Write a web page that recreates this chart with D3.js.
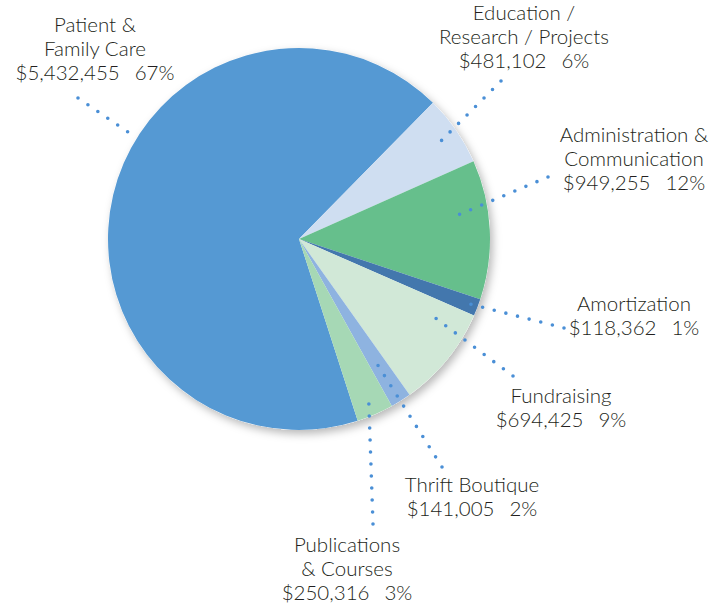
<!DOCTYPE html>
<html>
<head>
<meta charset="utf-8">
<script src="https://cdn.jsdelivr.net/npm/d3@7"></script>
<style>
  body { margin: 0; background: #fff; }
  text { font-family: Lato, "Open Sans", sans-serif; font-weight: 300; }
</style>
</head>
<body>
<div id="chart-container"></div>
<script>
// slices, in drawing order (clockwise)
const categories = ["Patient & Family Care", "Education / Research / Projects", "Administration & Communication",
    "Amortization", "Fundraising", "Thrift Boutique", "Publications & Courses"];
const amounts = [5432455, 481102, 949255, 118362, 694425, 141005, 250316];
const percents = ["67%", "6%", "12%", "1%", "9%", "2%", "3%"];
const labelLines = [
    ["Patient &", "Family Care"],
    ["Education /", "Research / Projects"],
    ["Administration &", "Communication"],
    ["Amortization"],
    ["Fundraising"],
    ["Thrift Boutique"],
    ["Publications", "& Courses"]
];
const colors = ["#5599d3", "#cfdef1", "#66bf8c", "#4377ad", "#d1e8d7", "#8eb3e0", "#a6d8b5"];

// label placement: centre x, first baseline, leader outer end, leader inner end (angle deg, radius)
const layout = [
    { x: 95, y: 32, out: [78, 98], inner: [302, 199] },
    { x: 524, y: 20, out: [501, 81], inner: [56, 163] },
    { x: 634, y: 142, out: [548, 177], inner: [81.5, 160] },
    { x: 634, y: 311, out: [564, 328], inner: [111, 178] },
    { x: 561, y: 403, out: [513, 376], inner: [120, 156] },
    { x: 472, y: 492, out: [442, 467], inner: [148, 146] },
    { x: 347, y: 552, out: [373, 524], inner: [156, 171] }
];

const width = 723, height = 604;
const cx = 299, cy = 239, radius = 191;

const svg = d3.select("#chart-container").append("svg")
    .attr("width", width)
    .attr("height", height);

const defs = svg.append("defs");
const shadow = defs.append("filter").attr("id", "shadow")
    .attr("x", "-20%").attr("y", "-20%").attr("width", "140%").attr("height", "140%");
shadow.append("feDropShadow")
    .attr("dx", 3).attr("dy", 4).attr("stdDeviation", 4)
    .attr("flood-color", "#000").attr("flood-opacity", 0.28);

const data = categories.map((c, i) => ({ name: c, amount: amounts[i], pct: percents[i], i }));

const startDeg = 162.1;
const pie = d3.pie()
    .sort(null)
    .value(d => d.amount)
    .startAngle(startDeg * Math.PI / 180)
    .endAngle(startDeg * Math.PI / 180 + 2 * Math.PI);

const arc = d3.arc().innerRadius(0).outerRadius(radius);

const g = svg.append("g").attr("transform", `translate(${cx},${cy})`);

g.append("circle").attr("r", radius).attr("fill", "#fff").attr("filter", "url(#shadow)");

g.selectAll(".slice")
    .data(pie(data))
    .enter().append("path")
    .attr("class", "slice")
    .attr("d", arc)
    .attr("fill", d => colors[d.data.i]);

// dotted leader lines + labels
const fmt = d3.format("$,");
layout.forEach((l, i) => {
    const a = l.inner[0] * Math.PI / 180;
    const ix = cx + l.inner[1] * Math.sin(a);
    const iy = cy - l.inner[1] * Math.cos(a);
    svg.append("line")
        .attr("x1", l.out[0]).attr("y1", l.out[1])
        .attr("x2", ix).attr("y2", iy)
        .attr("stroke", "#4a8fd6")
        .attr("stroke-width", 3.6)
        .attr("stroke-linecap", "round")
        .attr("stroke-dasharray", "0,12");

    const t = svg.append("text")
        .attr("x", l.x)
        .attr("y", l.y)
        .attr("text-anchor", "middle")
        .attr("fill", "#231f20")
        .style("font-size", "20.5px");
    labelLines[i].forEach((s, k) => {
        t.append("tspan")
            .attr("x", l.x)
            .attr("dy", k === 0 ? 0 : 24)
            .text(s);
    });
    t.append("tspan")
        .attr("x", l.x)
        .attr("dy", 24)
        .text(fmt(amounts[i]));
    t.append("tspan")
        .attr("dx", 15)
        .text(percents[i]);
});
</script>
</body>
</html>
